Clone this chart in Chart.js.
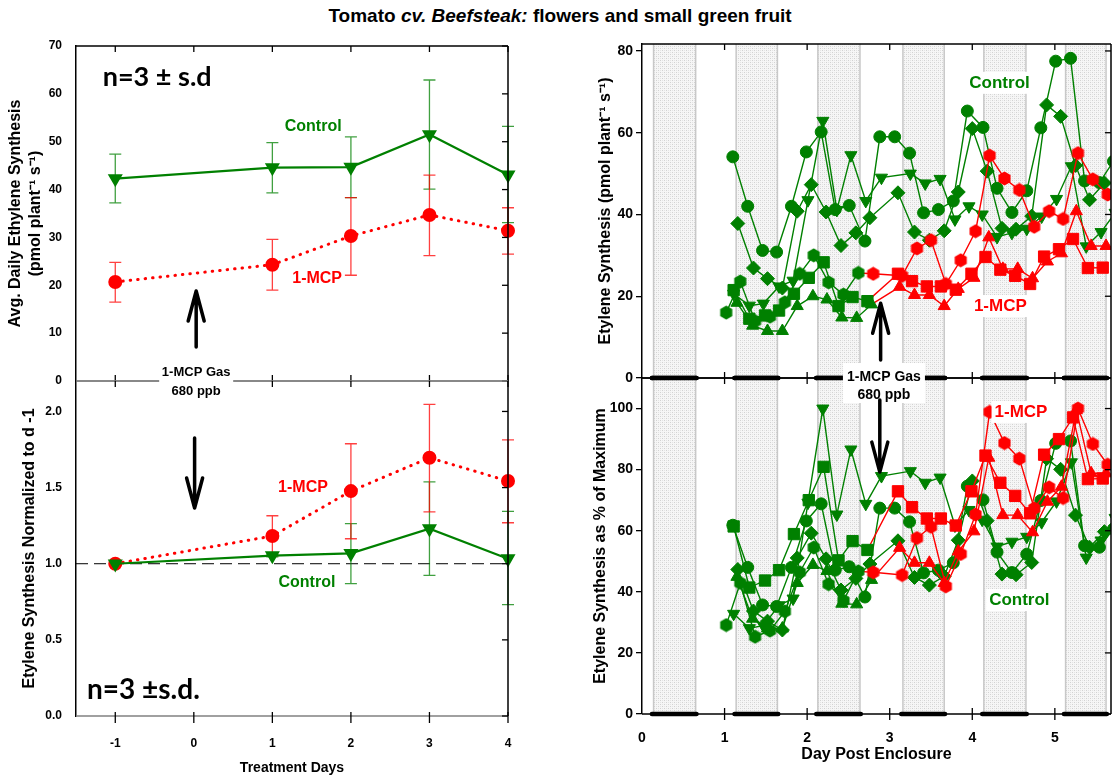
<!DOCTYPE html>
<html>
<head>
<meta charset="utf-8">
<title>Tomato cv. Beefsteak</title>
<script src="https://cdn.jsdelivr.net/npm/chart.js@4.4.1/dist/chart.umd.min.js"></script>
<style>
  body { margin: 0; background: #fff; }
  #wrap { position: relative; width: 1120px; height: 777px; overflow: hidden; }
  #wrap canvas { position: absolute; left: 0; top: 0; }
  #title { position: absolute; left: 0; top: 5px; width: 1120px; text-align: center;
           font: bold 19px "Liberation Sans", Arial, sans-serif; line-height: 22px; }
</style>
</head>
<body>
<div id="wrap">
  <div id="title">Tomato <i>cv. Beefsteak:</i> flowers and small green fruit</div>
  <canvas id="avgChart" width="1120" height="777"></canvas>
  <canvas id="normChart" width="1120" height="777"></canvas>
  <canvas id="rateChart" width="1120" height="777"></canvas>
  <canvas id="pctChart" width="1120" height="777"></canvas>
</div>
<script>
const GREEN = '#008000';
const RED = '#ff0000';
const FONT = '"Liberation Sans", Arial, sans-serif';

// left panels: means of 3 plants per treatment day
const treatDays = [-1, 1, 2, 3, 4];
const ctrlAvg   = [42.3, 44.6, 44.7, 51.5, 43.1];
const ctrlAvgLo = [37.2, 39.3, 38.3, 40.1, 33.1];
const ctrlAvgHi = [47.4, 49.8, 51.0, 62.9, 53.2];
const mcpAvg    = [20.7, 24.3, 30.3, 34.7, 31.4];
const mcpAvgLo  = [16.5, 19.0, 22.1, 26.2, 26.5];
const mcpAvgHi  = [24.8, 29.6, 38.3, 43.0, 36.2];
const ctrlNorm   = [1.0, 1.053, 1.068, 1.230, 1.033];
const ctrlNormLo = [1.0, 1.045, 0.869, 0.923, 0.731];
const ctrlNormHi = [1.0, 1.060, 1.263, 1.538, 1.344];
const mcpNorm    = [1.0, 1.182, 1.477, 1.696, 1.543];
const mcpNormLo  = [1.0, 1.052, 1.164, 1.341, 1.269];
const mcpNormHi  = [1.0, 1.315, 1.788, 2.046, 1.814];

// right panels: single plants (control: circle, diamond, down triangle)
const circDays = [1.10,1.28,1.46,1.63,1.81,1.99,2.17,2.34,2.51,2.70,2.88,3.06,3.24,3.41,3.59,3.77,3.94,4.13,4.30,4.48,4.66,4.83,5.01,5.19,5.36,5.54,5.71];
const circRate = [54.1,42.0,31.2,30.8,42.0,55.3,60.2,41.2,42.2,33.5,59.0,59.0,55.0,40.4,41.2,43.3,65.3,61.3,46.4,40.5,45.8,61.2,77.5,78.2,48.2,47.8,53.0];
const circPct  = [61.8,48.0,35.7,35.2,48.0,63.2,68.8,47.1,48.2,38.3,67.4,67.4,62.9,46.2,47.1,49.5,74.6,70.1,53.0,46.3,52.3,69.9,88.6,89.4,55.1,54.6,60.6];

const diamDays = [1.16,1.35,1.52,1.70,1.88,2.05,2.23,2.41,2.59,2.76,3.10,3.30,3.48,3.66,3.83,4.00,4.18,4.36,4.53,4.72,4.90,5.07,5.25,5.42,5.60];
const diamRate = [37.8,26.9,24.3,22.0,40.8,47.3,40.6,32.4,35.5,39.2,45.3,35.7,33.7,36.0,45.5,61.0,50.6,36.6,36.4,39.6,66.8,64.0,52.0,43.6,47.7];
const diamPct  = [47.3,33.7,30.4,27.5,51.1,59.2,50.8,40.6,44.4,49.1,56.7,44.7,42.2,45.1,56.9,76.3,63.3,45.8,45.6,49.6,83.6,80.1,65.1,54.6,59.7];

const downDays = [1.11,1.30,1.47,1.66,1.83,2.01,2.19,2.36,2.53,2.71,2.90,3.25,3.43,3.61,3.79,3.96,4.12,4.30,4.48,4.66,4.84,5.02,5.20,5.38,5.56,5.73];
const downRate = [20.6,17.7,18.2,22.4,23.8,43.5,62.9,41.1,54.5,43.3,49.0,50.0,47.6,48.7,38.8,42.0,40.0,34.5,35.5,36.5,39.5,43.8,51.8,32.2,35.7,40.4];
const downPct  = [32.8,28.1,28.9,35.6,37.8,69.2,100,65.3,86.6,68.8,77.9,79.5,75.7,77.4,61.7,66.8,63.6,54.8,56.4,58.0,62.8,69.6,82.4,51.2,56.8,64.2];

// treated plants (hexagon, square, up triangle) - red from the first treated sample on
const hexDays = [1.02,1.19,1.37,1.55,1.73,1.91,2.08,2.26,2.44,2.62,2.80,3.15,3.33,3.50,3.68,3.86,4.04,4.21,4.39,4.57,4.75,4.93,5.10,5.28,5.46,5.64];
const hexRate = [16.0,23.6,13.9,15.0,18.5,25.5,30.0,23.4,20.4,25.7,25.5,25.0,31.7,33.7,23.0,28.8,35.9,54.4,48.8,46.0,37.0,40.8,38.9,55.0,48.6,44.9];
const hexPct  = [29.1,42.9,25.3,27.3,33.6,46.4,54.5,42.5,37.1,46.7,46.4,45.5,57.6,61.3,41.8,52.4,65.3,98.9,88.7,83.6,67.3,74.2,70.7,100,88.4,81.6];
const hexTreatedFrom = 10;

const sqDays = [1.11,1.30,1.49,1.66,1.84,2.02,2.20,2.38,2.55,2.73,3.10,3.27,3.45,3.62,3.80,3.99,4.16,4.34,4.52,4.70,4.87,5.05,5.22,5.40,5.58];
const sqRate = [21.5,14.5,15.3,16.5,20.6,24.5,28.3,17.6,19.8,18.8,25.5,23.7,22.4,22.4,21.6,25.5,29.6,26.5,25.0,23.0,29.7,31.5,34.0,26.9,27.0];
const sqPct  = [61.4,41.4,43.7,47.1,58.9,70.0,80.9,50.3,56.6,53.7,72.9,67.7,64.0,64.0,61.7,72.9,84.6,75.7,71.4,65.7,84.9,90.0,97.1,76.9,77.1];
const sqTreatedFrom = 10;

const upDays = [1.15,1.34,1.52,1.70,1.88,2.07,2.24,2.42,2.60,2.78,3.12,3.30,3.48,3.66,3.83,4.02,4.20,4.37,4.55,4.73,4.91,5.08,5.26,5.44,5.62];
const upRate = [18.4,12.8,11.5,11.5,17.6,20.0,19.2,14.8,14.7,18.0,22.3,20.3,20.3,17.6,21.8,24.5,34.4,26.7,26.7,24.4,28.5,30.5,40.8,32.3,32.3];
const upPct  = [44.9,31.2,28.0,28.0,42.9,48.8,46.8,36.1,35.9,43.9,54.4,49.5,49.5,42.9,53.2,59.8,83.9,65.1,65.1,59.5,69.5,74.4,99.5,78.8,78.8];
const upTreatedFrom = 10;

// dark periods (days post enclosure)
const nightStart = [0.14, 1.14, 2.13, 3.16, 4.14, 5.13];
const nightEnd   = [0.65, 1.64, 2.64, 3.66, 4.65, 5.62];

Chart.defaults.font.family = FONT;
Chart.defaults.font.weight = 'bold';
Chart.defaults.font.size = 12;
Chart.defaults.color = '#000';
Chart.defaults.animation = false;
Chart.defaults.responsive = false;
Chart.defaults.plugins.legend.display = false;
Chart.defaults.plugins.tooltip.enabled = false;

function stippleCanvas() {
  const c = document.createElement('canvas');
  c.width = 4; c.height = 4;
  const g = c.getContext('2d');
  g.fillStyle = '#f6f6f6'; g.fillRect(0, 0, 4, 4);
  g.fillStyle = '#d2d2d2'; g.fillRect(0, 0, 1, 1); g.fillRect(2, 2, 1, 1);
  g.fillStyle = '#e4e4e4'; g.fillRect(0, 2, 1, 1); g.fillRect(2, 0, 1, 1);
  return c;
}
const stipple = stippleCanvas();

function hexMark(color) {
  const c = document.createElement('canvas');
  c.width = 15; c.height = 15;
  const g = c.getContext('2d');
  g.fillStyle = color;
  g.beginPath();
  for (let k = 0; k < 6; k++) {
    const a = Math.PI / 6 + k * Math.PI / 3;
    g.lineTo(7.5 + 7 * Math.cos(a), 7.5 + 7 * Math.sin(a));
  }
  g.closePath();
  g.fill();
  return c;
}
const hexG = hexMark(GREEN), hexR = hexMark(RED);

// ticks every `step` inside the axis range
const stepTicks = step => s => {
  const out = [];
  for (let k = Math.ceil(s.min / step - 1e-9); k * step <= s.max + 1e-9; k++) out.push({value: +(k * step).toFixed(6)});
  s.ticks = out;
};

const deco = {
  id: 'deco',
  beforeDatasetsDraw(chart, args, o) {
    const {ctx, chartArea: a, scales: {x, y}} = chart;
    ctx.save();
    if (o.bands) {
      const pat = ctx.createPattern(stipple, 'repeat');
      nightStart.forEach((s, i) => {
        const x0 = x.getPixelForValue(s), x1 = x.getPixelForValue(nightEnd[i]);
        ctx.fillStyle = pat;
        ctx.fillRect(x0, a.top, x1 - x0, a.bottom - a.top);
        ctx.strokeStyle = '#c8c8c8';
        ctx.lineWidth = 1.5;
        ctx.beginPath();
        ctx.moveTo(x0, a.top); ctx.lineTo(x0, a.bottom);
        ctx.moveTo(x1, a.top); ctx.lineTo(x1, a.bottom);
        ctx.stroke();
      });
    }
    if (o.refLine !== undefined) {
      const py = y.getPixelForValue(o.refLine);
      ctx.setLineDash([12, 6]);
      ctx.strokeStyle = '#000';
      ctx.lineWidth = 1;
      ctx.beginPath(); ctx.moveTo(a.left, py); ctx.lineTo(a.right, py); ctx.stroke();
      ctx.setLineDash([]);
    }
    (o.errors || []).forEach(err => {
      ctx.strokeStyle = err.color;
      ctx.lineWidth = 1.3;
      treatDays.forEach((d, i) => {
        if (err.hi[i] === err.lo[i]) return;
        const px = x.getPixelForValue(d);
        const yl = y.getPixelForValue(err.lo[i]), yh = y.getPixelForValue(err.hi[i]);
        ctx.beginPath();
        ctx.moveTo(px, yl); ctx.lineTo(px, yh);
        ctx.moveTo(px - 6, yl); ctx.lineTo(px + 6, yl);
        ctx.moveTo(px - 6, yh); ctx.lineTo(px + 6, yh);
        ctx.stroke();
      });
    });
    ctx.restore();
  },
  afterDatasetsDraw(chart, args, o) {
    const {ctx, chartArea: a, scales: {x, y}} = chart;
    ctx.save();
    const seg = (x0, y0, x1, y1, color, w) => {
      ctx.strokeStyle = color;
      ctx.lineWidth = w;
      ctx.beginPath(); ctx.moveTo(x0, y0); ctx.lineTo(x1, y1); ctx.stroke();
    };
    const ed = o.edges || {};
    if (ed.top) seg(a.left, a.top, a.right, a.top, ed.top, 1.5);
    if (ed.bottom) seg(a.left, a.bottom, a.right, a.bottom, ed.bottom, 1.5);
    if (ed.right) seg(a.right, a.top, a.right, a.bottom, ed.right, 1.5);

    for (let v = Math.ceil(x.min); v <= x.max; v++) {
      const px = x.getPixelForValue(v);
      if (px < a.left + 2) continue;
      if (o.tickTop) seg(px, a.top - o.tickTop[0], px, a.top + o.tickTop[1], '#000', 1.3);
      if (o.tickBottom) seg(px, a.bottom - o.tickBottom[0], px, a.bottom + o.tickBottom[1], '#000', 1.3);
    }
    if (o.tickRight) {
      y.ticks.forEach(t => {
        const py = y.getPixelForValue(t.value);
        seg(a.right - o.tickRight, py, a.right, py, '#000', 1.3);
      });
    }

    if (o.nightBars) {
      ctx.lineCap = 'round';
      o.nightBars.forEach(edge => {
        const py = edge === 'top' ? a.top : a.bottom;
        nightStart.forEach((s, i) => {
          seg(x.getPixelForValue(s - 0.02), py, x.getPixelForValue(nightEnd[i] + 0.01), py, '#000', 4.5);
        });
      });
      ctx.lineCap = 'butt';
    }

    (o.notes || []).forEach(n => {
      ctx.font = n.font;
      ctx.textAlign = n.align || 'center';
      ctx.textBaseline = 'middle';
      const px = x.getPixelForValue(n.x), py = y.getPixelForValue(n.y);
      if (n.bg) {
        const w = ctx.measureText(n.text).width + 6;
        ctx.fillStyle = '#fff';
        ctx.fillRect(px - w / 2, py - 11, w, 22);
      }
      ctx.fillStyle = n.color;
      ctx.fillText(n.text, px, py);
    });

    if (o.gas) {
      const g = o.gas;
      const px = x.getPixelForValue(g.x);
      ctx.fillStyle = '#fff';
      ctx.fillRect(px - g.w / 2, a.top + g.box[0], g.w, g.box[1] - g.box[0]);
      ctx.font = g.font;
      ctx.fillStyle = '#000';
      ctx.textAlign = 'center';
      ctx.textBaseline = 'middle';
      ctx.fillText('1-MCP Gas', px, a.top + g.dy[0]);
      ctx.fillText('680 ppb', px, a.top + g.dy[1]);
    }

    (o.arrows || []).forEach(ar => {
      const px = x.getPixelForValue(ar.x);
      const y0 = y.getPixelForValue(ar.from), y1 = y.getPixelForValue(ar.to);
      const dir = y1 > y0 ? 1 : -1;
      ctx.strokeStyle = '#000';
      ctx.lineWidth = 3.5;
      ctx.lineCap = 'round';
      ctx.lineJoin = 'round';
      ctx.beginPath();
      ctx.moveTo(px, y0); ctx.lineTo(px, y1);
      ctx.moveTo(px - 8, y1 - dir * 30); ctx.lineTo(px, y1); ctx.lineTo(px + 8, y1 - dir * 30);
      ctx.stroke();
    });
    ctx.restore();
  }
};
Chart.register(deco);

function meanSet(vals, color, dotted) {
  return {
    data: treatDays.map((d, i) => ({x: d, y: vals[i]})),
    borderColor: color,
    borderWidth: dotted ? 3 : 2.2,
    borderDash: dotted ? [0.5, 7] : [],
    borderCapStyle: dotted ? 'round' : 'butt',
    pointStyle: dotted ? 'circle' : 'triangle',
    pointRotation: dotted ? 0 : 180,
    pointRadius: dotted ? 5.5 : 6.5,
    pointBackgroundColor: color,
    pointBorderColor: color,
    clip: false
  };
}

function treatAxis(show) {
  return {
    type: 'linear', min: -1.5, max: 4, display: show,
    afterBuildTicks: stepTicks(1),
    ticks: {padding: 12.5, font: {size: 12}},
    grid: {display: false},
    border: {display: false},
    title: {display: true, text: 'Treatment Days', font: {size: 14}, padding: {top: 0, bottom: 0.6}},
    afterFit: s => { if (show) s.height = 61; }
  };
}

function leftY(min, max, step, title, padTop, fmt) {
  return {
    min: min, max: max,
    afterBuildTicks: stepTicks(step),
    ticks: {padding: 6, font: {size: 12}, callback: fmt || (v => v)},
    grid: {display: false},
    border: {color: '#000', width: 1.5},
    title: {display: true, text: title, font: {size: 16}, padding: {top: padTop, bottom: 0}},
    afterFit: s => { s.width = 76; }
  };
}

// Graph 1: average daily ethylene
new Chart(document.getElementById('avgChart'), {
  type: 'line',
  data: {datasets: [meanSet(ctrlAvg, GREEN, false), meanSet(mcpAvg, RED, true)]},
  options: {
    layout: {padding: {left: 0, top: 46, right: 612, bottom: 396}},
    scales: {
      x: treatAxis(false),
      y: leftY(0, 70, 10, ['Avg. Daily Ethylene Synthesis', '(pmol plant\u207B\u00B9 s\u207B\u00B9)'], 6.4)
    },
    plugins: {
      deco: {
        edges: {top: '#000', right: '#000', bottom: '#808080'},
        tickTop: [0, 6], tickBottom: [6, 0], tickRight: 6,
        errors: [
          {lo: ctrlAvgLo, hi: ctrlAvgHi, color: 'rgba(0,128,0,0.75)'},
          {lo: mcpAvgLo, hi: mcpAvgHi, color: 'rgba(255,0,0,0.75)'}
        ],
        notes: [
          {text: 'n=3 \u00B1 s.d', x: -1.16, y: 63.5, color: '#000', font: 'bold 27px Lato', align: 'left'},
          {text: 'Control', x: 1.52, y: 53.1, color: GREEN, font: 'bold 16px ' + FONT},
          {text: '1-MCP', x: 1.57, y: 21.3, color: RED, font: 'bold 16px ' + FONT}
        ],
        arrows: [{x: 0.03, from: 7.1, to: 18.8}]
      }
    }
  }
});

// Graph 2: normalised to day -1
new Chart(document.getElementById('normChart'), {
  type: 'line',
  data: {datasets: [meanSet(ctrlNorm, GREEN, false), meanSet(mcpNorm, RED, true)]},
  options: {
    layout: {padding: {left: 0, top: 381, right: 612, bottom: 0}},
    scales: {
      x: treatAxis(true),
      y: leftY(0, 2.2, 0.5, 'Etylene Synthesis Normalized to d -1', 20.4, v => v.toFixed(1))
    },
    plugins: {
      deco: {
        edges: {top: '#808080', right: '#000', bottom: '#808080'},
        tickTop: [0, 6], tickBottom: [4, 7], tickRight: 6,
        refLine: 1.0,
        errors: [
          {lo: ctrlNormLo, hi: ctrlNormHi, color: 'rgba(0,128,0,0.75)'},
          {lo: mcpNormLo, hi: mcpNormHi, color: 'rgba(255,0,0,0.75)'}
        ],
        notes: [
          {text: '1-MCP', x: 1.39, y: 1.497, color: RED, font: 'bold 16px ' + FONT},
          {text: 'Control', x: 1.44, y: 0.873, color: GREEN, font: 'bold 16px ' + FONT},
          {text: 'n=3 \u00B1s.d.', x: -1.36, y: 0.171, color: '#000', font: 'bold 28px Lato', align: 'left'}
        ],
        gas: {x: 0.03, w: 74, box: [-18, 16], dy: [-9, 10], font: 'bold 13px ' + FONT},
        arrows: [{x: 0.01, from: 1.826, to: 1.366}]
      }
    }
  }
});

// right panels
function plant(days, vals, style, rot, radius, treatedFrom) {
  const cols = days.map((d, i) => (treatedFrom !== undefined && i >= treatedFrom) ? RED : GREEN);
  return {
    data: days.map((d, i) => ({x: d, y: vals[i]})),
    borderColor: GREEN,
    borderWidth: 1.4,
    segment: {borderColor: s => cols[s.p1DataIndex]},
    pointStyle: style === 'hex' ? cols.map(c => c === RED ? hexR : hexG) : style,
    pointRotation: rot,
    pointRadius: radius,
    pointBackgroundColor: cols,
    pointBorderColor: cols,
    pointBorderWidth: 1
  };
}

function plantSets(useRate) {
  return [
    plant(hexDays, useRate ? hexRate : hexPct, 'hex', 0, 7, hexTreatedFrom),
    plant(sqDays, useRate ? sqRate : sqPct, 'rect', 0, 8, sqTreatedFrom),
    plant(upDays, useRate ? upRate : upPct, 'triangle', 0, 7, upTreatedFrom),
    plant(circDays, useRate ? circRate : circPct, 'circle', 0, 6),
    plant(diamDays, useRate ? diamRate : diamPct, 'rectRot', 0, 7),
    plant(downDays, useRate ? downRate : downPct, 'triangle', 180, 7)
  ];
}

function dayAxis(show) {
  return {
    type: 'linear', min: 0, max: 5.68, display: show,
    afterBuildTicks: stepTicks(1),
    ticks: {padding: 7.6, font: {size: 14}},
    grid: {display: false},
    border: {display: false},
    title: {display: true, text: 'Day Post Enclosure', font: {size: 16}, padding: {top: 0, bottom: 12.4}},
    afterFit: s => { if (show) s.height = 63; }
  };
}

function rightY(max, title, padTop) {
  return {
    min: 0, max: max,
    afterBuildTicks: stepTicks(20),
    ticks: {padding: 3, font: {size: 14}},
    grid: {display: true, drawOnChartArea: false, drawTicks: true, tickLength: 6, color: '#000', lineWidth: 1.3},
    border: {color: '#000', width: 1.5},
    title: {display: true, text: title, font: {size: 16}, padding: {top: padTop, bottom: 0}},
    afterFit: s => { s.width = 52; }
  };
}

// Graph 3: ethylene synthesis rate per plant
new Chart(document.getElementById('rateChart'), {
  type: 'line',
  data: {datasets: plantSets(true)},
  options: {
    layout: {padding: {left: 590, top: 44, right: 3, bottom: 399}},
    scales: {
      x: dayAxis(false),
      y: rightY(81.7, 'Etylene Synthesis (pmol plant\u207B\u00B9 s\u207B\u00B9)', 6.4)
    },
    plugins: {
      deco: {
        bands: true,
        edges: {top: '#000', right: '#000', bottom: '#000'},
        tickTop: [0, 6], tickBottom: [6, 0], tickRight: 6,
        nightBars: ['bottom'],
        notes: [
          {text: 'Control', x: 4.33, y: 72.2, color: GREEN, font: 'bold 17px ' + FONT, bg: true},
          {text: '1-MCP', x: 4.34, y: 17.6, color: RED, font: 'bold 17px ' + FONT, bg: true}
        ],
        arrows: [{x: 2.89, from: 4.4, to: 18.3}]
      }
    }
  }
});

// Graph 4: rate as % of each plant's maximum
new Chart(document.getElementById('pctChart'), {
  type: 'line',
  data: {datasets: plantSets(false)},
  options: {
    layout: {padding: {left: 590, top: 378, right: 3, bottom: 0}},
    scales: {
      x: dayAxis(true),
      y: rightY(110, 'Etylene Synthesis as % of Maximum', 1.4)
    },
    plugins: {
      deco: {
        bands: true,
        edges: {top: '#000', right: '#000', bottom: '#000'},
        tickTop: [0, 6], tickBottom: [6, 6], tickRight: 6,
        nightBars: ['top', 'bottom'],
        notes: [
          {text: '1-MCP', x: 4.59, y: 98.9, color: RED, font: 'bold 17px ' + FONT, bg: true},
          {text: 'Control', x: 4.57, y: 37.3, color: GREEN, font: 'bold 17px ' + FONT, bg: true}
        ],
        gas: {x: 2.93, w: 82, box: [-15, 25], dy: [-1, 17], font: 'bold 14px ' + FONT},
        arrows: [{x: 2.88, from: 102.8, to: 79.2}]
      }
    }
  }
});
</script>
</body>
</html>
